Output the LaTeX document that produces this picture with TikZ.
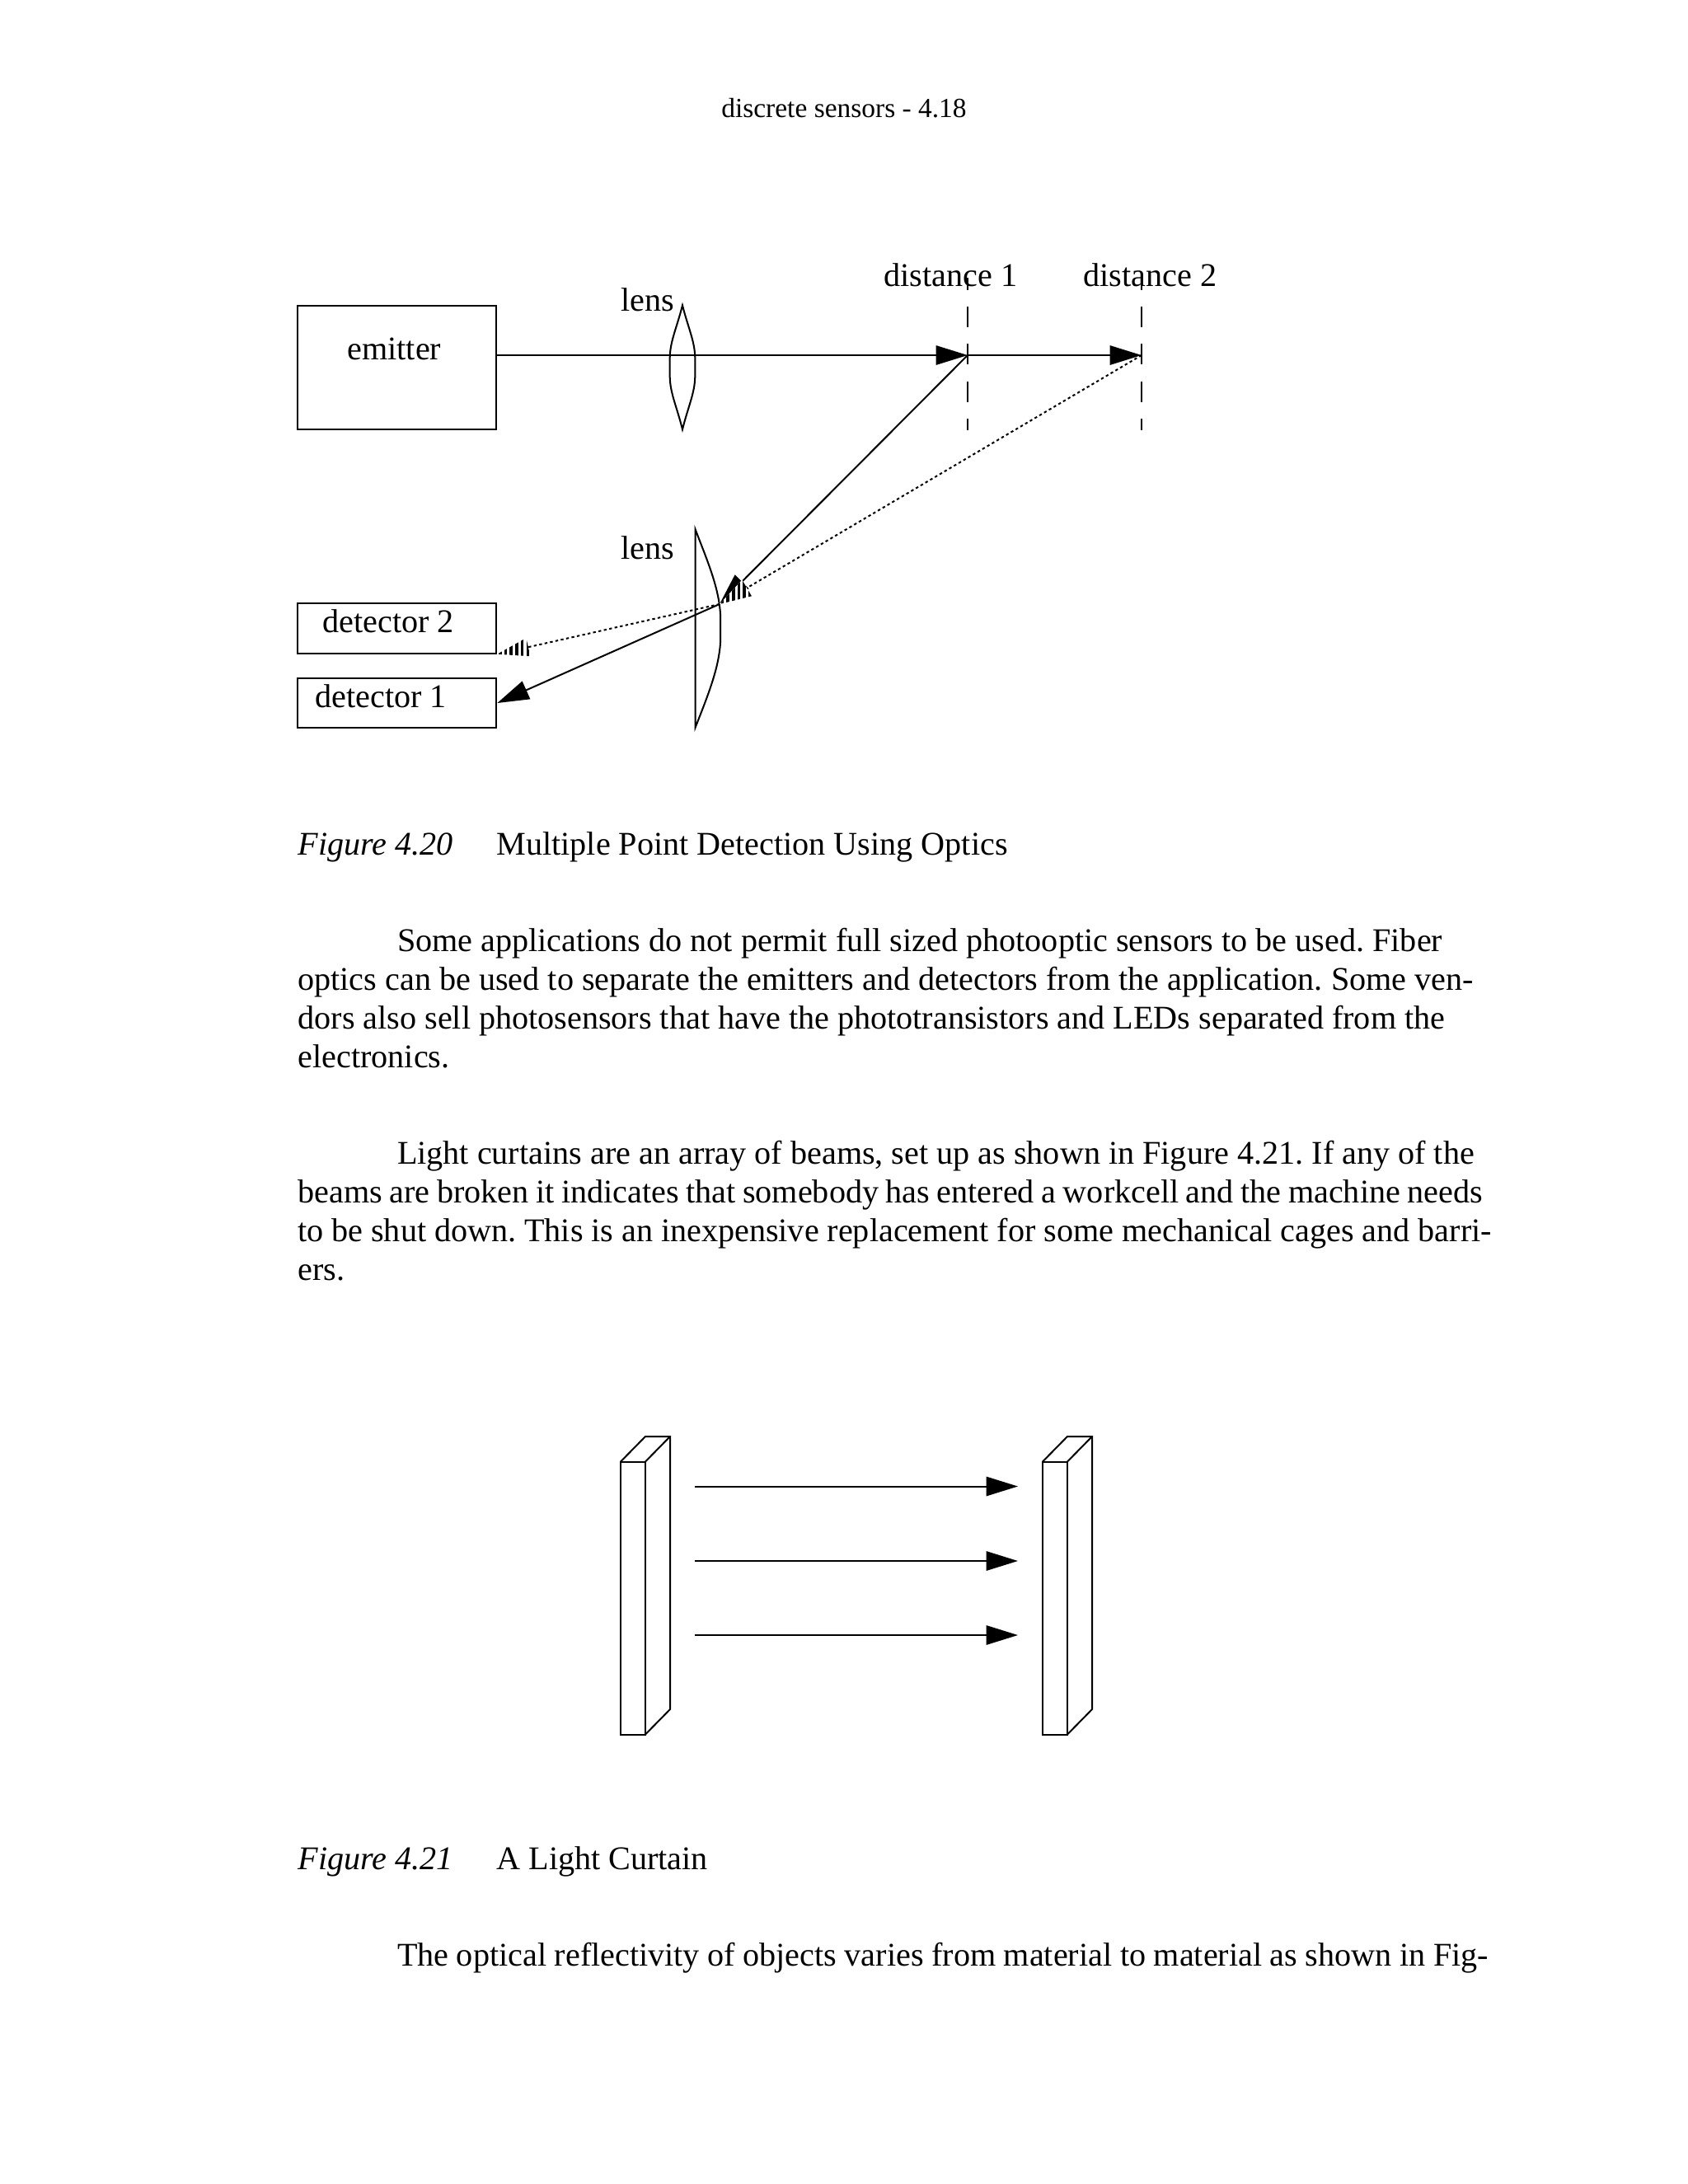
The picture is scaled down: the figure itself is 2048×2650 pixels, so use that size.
\documentclass[tikz,border=0pt]{standalone}
\usepackage{fontspec}
\setmainfont{Liberation Serif}
\frenchspacing
\usetikzlibrary{calc,arrows.meta}
\newcommand{\stripedhead}[2]{%
    \coordinate (hb) at ($(#1)!11.5pt!(#2)$);
    \fill[white] (#1) -- ($(hb)!3.4pt!90:(#2)$) -- ($(hb)!3.4pt!-90:(#2)$) -- cycle;
    \begin{scope}
        \clip (#1) -- ($(hb)!3.4pt!90:(#2)$) -- ($(hb)!3.4pt!-90:(#2)$) -- cycle;
        \foreach \k in {0,...,5}
            \draw[line width=1.1pt] ($(#1)+({3.5+\k*6.7},-60)$) -- ++(0,120);
    \end{scope}
}
\begin{document}
\begin{tikzpicture}[
        x=0.29883pt, y=-0.29883pt,
        line width=0.6pt,
        box/.style={draw, minimum width=72pt, inner sep=0pt, anchor=north west},
        txt/.style={inner sep=0pt, anchor=base west, font=\fontsize{12}{14}\selectfont},
        arr/.style={-{Triangle[length=11.5pt,width=7pt]}},
        marker/.style={dash pattern=on 7.5pt off 6pt, dash phase=3pt},
        dots/.style={dash pattern=on 1pt off 1pt}
    ]
    \useasboundingbox (0,0) rectangle (2048,2650);

    \node[txt, anchor=base, font=\fontsize{10}{12}\selectfont] (header) at (1024,142) {discrete sensors - 4.18};

    % figure 4.20
    \node[box, minimum height=45pt] (emitter) at (360.4,369.8) {};
    \node[box, minimum height=18pt] (det2) at (360.4,731.4) {};
    \node[box, minimum height=18pt] (det1) at (360.4,821.9) {};
    \node[txt] (emitterlabel) at (420.5,436) {emitter};
    \node[txt] (det2label) at (390.5,767.5) {detector 2};
    \node[txt] (det1label) at (381.5,858.5) {detector 1};
    \node[txt] (lens1label) at (752.5,377.5) {lens};
    \node[txt] (lens2label) at (752.5,678.5) {lens};
    \node[txt] (dist1label) at (1071.5,347) {distance 1};
    \node[txt] (dist2label) at (1313.5,347) {distance 2};

    \coordinate (d1) at (1174,431);
    \coordinate (d2) at (1385,431);
    \coordinate (focus) at (873,733);

    \draw (828,370.5) .. controls (821,398) and (813,414) .. (812.7,434) -- (812.7,457)
        .. controls (813,477) and (821,493) .. (828,521)
        .. controls (835,493) and (843,477) .. (843.3,457) -- (843.3,434)
        .. controls (843,414) and (835,398) .. cycle;
    \draw (843.5,642) .. controls (858,680) and (872,712) .. (874,745) -- (874,780)
        .. controls (872,812) and (858,846) .. (843.5,883) -- cycle;

    \draw[marker] (1174,337) -- (1174,522);
    \draw[marker] (1385,337) -- (1385,522);

    \draw[arr] (emitter.east |- d1) -- (d1);
    \draw[arr] (d1) -- (d2);
    \draw[arr] (d1) -- (focus);
    \draw[arr] (focus) -- (det1.east);

    \stripedhead{focus}{d2}
    \stripedhead{det2.south east}{focus}
    \draw[dots] (d2) -- ($(focus)!11.5pt!(d2)$);
    \draw[dots] (focus) -- ($(det2.south east)!11.5pt!(focus)$);

    \node[txt] (cap1a) at (360.5,1037.5) {\itshape Figure 4.20};
    \node[txt] (cap1b) at (601.5,1037.5) {Multiple Point Detection Using Optics};

    \node[txt] (pa1) at (481,1154.5) {Some applications do not permit full sized photooptic sensors to be used. Fiber};
    \node[txt] (pa2) at (360.5,1201.5) {optics can be used to separate the emitters and detectors from the application. Some ven-};
    \node[txt] (pa3) at (360.5,1248) {dors also sell photosensors that have the phototransistors and LEDs separated from the};
    \node[txt] (pa4) at (360.5,1295) {electronics.};

    \node[txt] (pb1) at (481,1412.5) {Light curtains are an array of beams, set up as shown in Figure 4.21. If any of the};
    \node[txt] (pb2) at (360.5,1459.5) {\spaceskip=2.55pt beams are broken it indicates that somebody has entered a workcell and the machine needs};
    \node[txt] (pb3) at (360.5,1506) {\spaceskip=2.95pt to be shut down. This is an inexpensive replacement for some mechanical cages and barri-};
    \node[txt] (pb4) at (360.5,1553) {ers.};

    % figure 4.21
    \foreach \px in {753,1265} {
        \draw (\px,1773.5) rectangle ++(30,331);
        \draw (\px,1773.5) -- ++(30,-30.5) -- ++(30,0) -- ++(0,331) -- ++(-30,30.5);
        \draw (\px+30,1773.5) -- ++(30,-30.5);
    }
    \foreach \by in {1803.5,1894,1984} {
        \coordinate (bstart) at (842.5,\by);
        \coordinate (bend) at (1235,\by);
        \draw[arr] (bstart) -- (bend);
    }

    \node[txt] (cap2a) at (360.5,2268.5) {\itshape Figure 4.21};
    \node[txt] (cap2b) at (601.5,2268.5) {A Light Curtain};

    \node[txt] (pc1) at (481,2385.5) {\spaceskip=2.85pt The optical reflectivity of objects varies from material to material as shown in Fig-};
\end{tikzpicture}
\end{document}
